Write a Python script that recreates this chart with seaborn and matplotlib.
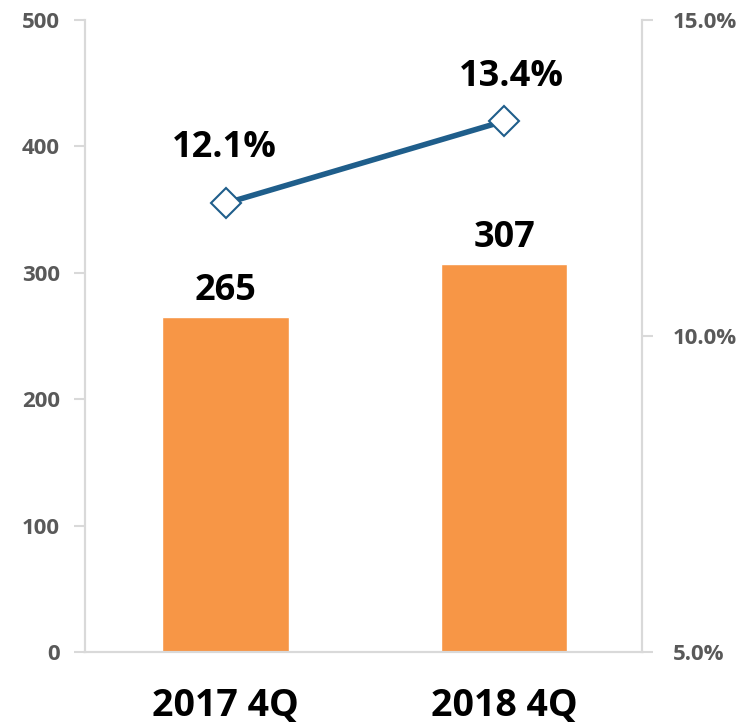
import numpy as np
import pandas as pd
import matplotlib
matplotlib.use("Agg")
import matplotlib.pyplot as plt
import seaborn as sns

# data
quarters = ["2017 4Q", "2018 4Q"]
amounts = [265, 307]
rates = [12.1, 13.4]

sns.set_style("white")
plt.rcParams['font.family'] = ['Open Sans', 'DejaVu Sans']

bar_color = "#F79646"
line_color = "#1F5E8B"
tick_color = "#595959"
spine_color = "#D9D9D9"

df = pd.DataFrame({"quarter": quarters, "amount": amounts, "rate": rates})

fig = plt.figure(figsize=(7.49, 7.25), dpi=100)
ax = fig.add_axes([0.1135, 0.1007, 0.7435, 0.8717])

sns.barplot(data=df, x="quarter", y="amount", color=bar_color, width=0.455,
            saturation=1, ax=ax)
ax.set_ylim(0, 500)
ax.set_xlim(-0.505, 1.495)
ax.set_yticks(np.arange(0, 501, 100))
ax.set_xlabel("")
ax.set_ylabel("")

ax2 = ax.twinx()
sns.lineplot(x=np.arange(len(quarters)), y=rates, ax=ax2, color=line_color,
             linewidth=4, marker="D", markersize=15, markerfacecolor="white",
             markeredgecolor=line_color, markeredgewidth=1.5)
ax2.set_ylim(5, 15)
ax2.set_yticks([5, 10, 15])
ax2.set_yticklabels([f"{v:.1f}%" for v in [5, 10, 15]])

for a, pad in ((ax, 10), (ax2, 14)):
    for s in a.spines.values():
        s.set_color(spine_color)
        s.set_linewidth(1.5)
    a.spines["top"].set_visible(False)
    a.tick_params(axis="y", colors=spine_color, length=8, width=1.5,
                  labelcolor=tick_color, labelsize=16, pad=pad)
    for lab in a.get_yticklabels():
        lab.set_fontweight("bold")

ax.tick_params(axis="x", length=0, pad=25, labelsize=27, labelcolor="black")
for lab in ax.get_xticklabels():
    lab.set_fontweight("bold")

# value labels
for i, v in enumerate(amounts):
    ax.annotate(f"{v}", (i, v), xytext=(0, 19), textcoords="offset points",
                ha="center", va="center", fontsize=26, fontweight="bold",
                color="black")

label_offsets = [(-1, 40), (5, 32)]
for i, r in enumerate(rates):
    ax2.annotate(f"{r:.1f}%", (i, r), xytext=label_offsets[i],
                 textcoords="offset points", ha="center", va="center",
                 fontsize=26, fontweight="bold", color="black")

fig.savefig("out.png", dpi=100)
